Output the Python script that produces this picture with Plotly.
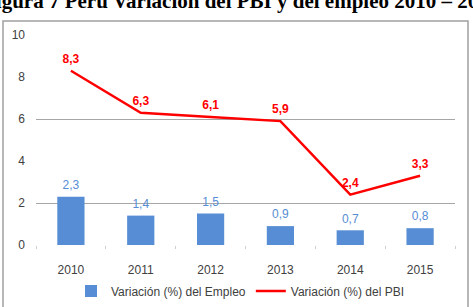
import plotly.graph_objects as go

years = ["2010", "2011", "2012", "2013", "2014", "2015"]
empleo = [2.3, 1.4, 1.5, 0.9, 0.7, 0.8]
pbi = [8.3, 6.3, 6.1, 5.9, 2.4, 3.3]
y_ticks = [0, 2, 4, 6, 8, 10]
grid_vals = [2, 6, 10]
title_text = "Figura 7 Perú Variación del PBI y del empleo 2010 – 2015"
name_empleo = "Variación (%) del Empleo"
name_pbi = "Variación (%) del PBI"

def fmt(v):
    return f"{v:.1f}".replace(".", ",")

W, H = 473, 307
L, R, T, B = 36, 18, 35, 62
pw, ph = W - L - R, H - T - B

def px_x(x):
    return (x - L) / pw

def px_y(y):
    return (H - B - y) / ph

BLUE = "#578DD4"
RED = "#FF0000"
FONT = "Liberation Sans"
CLEAR = "rgba(0,0,0,0)"

fig = go.Figure()
fig.add_trace(go.Bar(
    x=years, y=empleo, name=name_empleo,
    marker=dict(color=BLUE, line=dict(width=0)),
))
fig.add_trace(go.Scatter(
    x=years, y=pbi, name=name_pbi, mode="lines+markers+text",
    line=dict(color=RED, width=2.5),
    marker=dict(size=6, color=CLEAR),
    text=[fmt(v) for v in pbi], textposition="top center",
    textfont=dict(color=RED, size=12, family=FONT, weight="bold"),
    cliponaxis=False,
))
# value labels above bars
fig.add_trace(go.Scatter(
    x=years, y=empleo, mode="markers+text", showlegend=False,
    marker=dict(size=6, color=CLEAR),
    text=[fmt(v) for v in empleo], textposition="top center",
    textfont=dict(color=BLUE, size=12, family=FONT),
    cliponaxis=False, hoverinfo="skip",
))
# invisible trace on overlay axis to show the partial gridlines
fig.add_trace(go.Scatter(x=years, y=pbi, yaxis="y2", mode="none",
                         showlegend=False, hoverinfo="skip"))

fig.update_layout(
    width=W, height=H,
    margin=dict(l=L, r=R, t=T, b=B, autoexpand=False),
    paper_bgcolor="white", plot_bgcolor="white",
    font=dict(family=FONT, size=12, color="#404040"),
    bargap=0.61,
    showlegend=True,
    legend=dict(orientation="h", x=px_x(240), xanchor="center",
                yref="container", y=1 - 291 / H, yanchor="middle",
                font=dict(size=12, color="#404040"),
                itemwidth=30, tracegroupgap=0),
    xaxis=dict(showgrid=False, zeroline=False, showline=False,
               ticks="outside", tickson="boundaries", ticklen=3,
               tickcolor="#D0D0D0", ticklabelstandoff=16,
               tickfont=dict(size=12, color="#404040")),
    yaxis=dict(range=[0, 10], tickvals=y_ticks, showgrid=False,
               zeroline=False, showline=False,
               ticklabelstandoff=10,
               tickfont=dict(size=12, color="#404040")),
    yaxis2=dict(range=[0, 10], overlaying="y", tickvals=grid_vals,
                showgrid=True, gridcolor="#A6A6A6", gridwidth=1,
                showticklabels=False, zeroline=False, showline=False),
    shapes=[dict(type="rect", xref="paper", yref="paper",
                 x0=px_x(3), x1=px_x(468), y0=px_y(21), y1=px_y(315),
                 line=dict(color="#A0A0A0", width=1.5), layer="below")],
    annotations=[dict(text=title_text, xref="paper", yref="paper",
                      x=px_x(-19), xanchor="left", y=px_y(15), yanchor="bottom",
                      showarrow=False,
                      font=dict(family="Liberation Serif", size=21,
                                color="black", weight="bold"))],
)

fig.write_html("out.html")
